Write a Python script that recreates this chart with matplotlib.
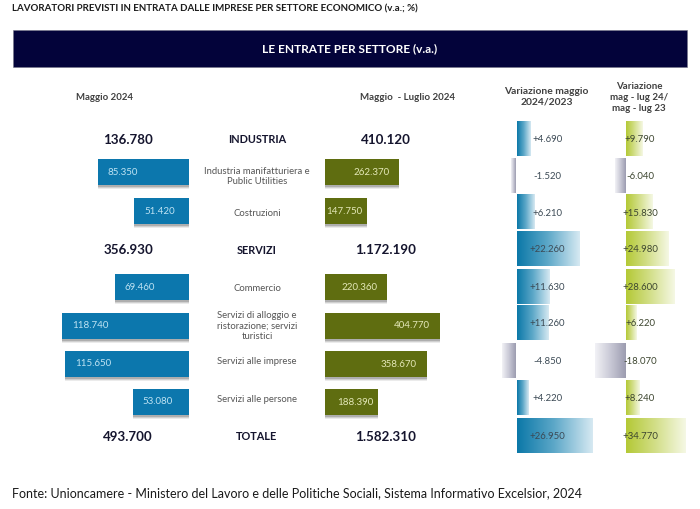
import numpy as np
import matplotlib
matplotlib.use("Agg")
import matplotlib.pyplot as plt
from matplotlib.colors import LinearSegmentedColormap
from matplotlib.patches import Rectangle

plt.rcParams['font.family'] = ['Lato', 'DejaVu Sans']

sectors = ["INDUSTRIA", "Industria manifatturiera e\nPublic Utilities", "Costruzioni", "SERVIZI", "Commercio",
           "Servizi di alloggio e\nristorazione; servizi\nturistici", "Servizi alle imprese",
           "Servizi alle persone", "TOTALE"]
is_total = [True, False, False, True, False, False, False, False, True]
may_2024 = [136780, 85350, 51420, 356930, 69460, 118740, 115650, 53080, 493700]
may_jul_2024 = [410120, 262370, 147750, 1172190, 220360, 404770, 358670, 188390, 1582310]
var_may = [4690, -1520, 6210, 22260, 11630, 11260, -4850, 4220, 26950]
var_may_jul = [9790, -6040, 15830, 24980, 28600, 6220, -18070, 8240, 34770]

W, H = 700, 510
row_y = [139.5, 176.5, 213, 250, 287.5, 324, 362, 399, 436.5]
left_bar_y = [None, 173.3, 212, None, 288.2, 326.5, 364.5, 402.5, None]
mid_bar_y = [None, 173.3, 212, None, 288.2, 326.5, 365, 403, None]
label_y = [139.5, 176.5, 213.5, 250, 288.7, 325.7, 362, 399.5, 436.7]

fig = plt.figure(figsize=(7, 5.1), dpi=100, facecolor='white')


def T(px, py, s, **kw):
    kw.setdefault('ha', 'center')
    kw.setdefault('va', 'center')
    return fig.text(px / W, 1 - py / H, s, **kw)


def panel(x0, x1, xlim):
    ax = fig.add_axes([x0 / W, 0, (x1 - x0) / W, 1])
    ax.set_xlim(*xlim)
    ax.set_ylim(H, 0)
    ax.axis('off')
    ax.patch.set_alpha(0)
    return ax


def dots(v, sign=False):
    s = f"{abs(v):,}".replace(',', '.')
    if sign:
        return ('+' if v >= 0 else '-') + s
    return s


T(12, 9, "LAVORATORI PREVISTI IN ENTRATA DALLE IMPRESE PER SETTORE ECONOMICO (v.a.; %)",
  ha='left', fontsize=7.05, fontweight='bold', color='#1c1c1c')
fig.add_artist(Rectangle((13 / W, 1 - 68 / H), 673.5 / W, 37 / H, transform=fig.transFigure,
                         facecolor='#03033a', edgecolor='#777788', lw=0.4))
T(349.5, 49, "LE ENTRATE PER SETTORE (v.a.)", fontsize=8.6, fontweight='bold', color='white')

T(105, 98, "Maggio 2024", fontsize=6.9, fontweight='bold', color='#404040')
T(408, 98, "Maggio  - Luglio 2024", fontsize=7.0, fontweight='bold', color='#404040')
T(546.7, 97, "Variazione maggio\n2024/2023", fontsize=7.4, fontweight='bold', color='#404040', linespacing=1.25)
T(639, 97.5, "Variazione\nmag - lug 24/\nmag - lug 23", fontsize=7.0, fontweight='bold', color='#404040', linespacing=1.3)
T(12, 493, "Fonte: Unioncamere - Ministero del Lavoro e delle Politiche Sociali, Sistema Informativo Excelsior, 2024",
  ha='left', fontsize=9.0, color='#1a1a1a')

for i, name in enumerate(sectors):
    if is_total[i]:
        T(257, label_y[i], name, fontsize=7.8, fontweight='bold', color='#15152e')
        T(128, label_y[i], dots(may_2024[i]), fontsize=9.6, fontweight='bold', color='#15152e')
        T(386, label_y[i], dots(may_jul_2024[i]), fontsize=9.6, fontweight='bold', color='#15152e')
    else:
        T(257, label_y[i], name, fontsize=6.8, color='#555555', linespacing=1.2)

axL = panel(50, 189.5, (139.5 / 1.0738 * 1000, 0))
axM = panel(325, 450, (0, 125 / 0.2834 * 1000))
for i in range(len(sectors)):
    if is_total[i]:
        continue
    for ax, vals, ys, col in ((axL, may_2024, left_bar_y, '#0c77ad'), (axM, may_jul_2024, mid_bar_y, '#5f6d10')):
        for off, a in ((4.0, .10), (3.0, .16), (2.0, .24)):
            ax.barh(ys[i] + off, vals[i], height=26, color='#444444', alpha=a, lw=0)
        ax.barh(ys[i], vals[i], height=26, color=col, lw=0)
    left_px = 189.5 - may_2024[i] * 1.0738 / 1000
    T(left_px + 10, left_bar_y[i] - 0.5, dots(may_2024[i]), ha='left', fontsize=7.0, color='#bfe3f3')
    right_px = 325 + may_jul_2024[i] * 0.2834 / 1000
    T(right_px - (5 if may_jul_2024[i] < 200000 else 10), mid_bar_y[i] - 0.5, dots(may_jul_2024[i]),
      ha='right', fontsize=7.0, color='#e4e8b8')

blue = LinearSegmentedColormap.from_list('b', ['#0b78a8', '#5fa9c9', '#d6e9f2'])
green = LinearSegmentedColormap.from_list('g', ['#b4c936', '#d3df8a', '#f5f8e4'])
grey = LinearSegmentedColormap.from_list('n', ['#9c9cb0', '#c9c9d6', '#f2f2f6'])
grad = np.linspace(0, 1, 128).reshape(1, -1)


def var_panel(ax, vals, cmap, neg_gap):
    for i, v in enumerate(vals):
        y0, y1 = row_y[i] - 17.4, row_y[i] + 17.4
        if v >= 0:
            ax.imshow(grad, cmap=cmap, extent=(0, v, y1, y0), aspect='auto', zorder=2)
        else:
            ax.imshow(grad[:, ::-1], cmap=grey, extent=(v - neg_gap, -neg_gap, y1, y0), aspect='auto', zorder=2)


axV1 = panel(490, 600, (-(516.7 - 490) / 2.795 * 1000, (600 - 516.7) / 2.795 * 1000))
var_panel(axV1, var_may, blue, 360)
axV1.set_xlim(-(516.7 - 490) / 2.795 * 1000, (600 - 516.7) / 2.795 * 1000)
axV1.set_ylim(H, 0)
axV2 = panel(590, 690, (-(626 - 590) / 1.697 * 1000, (690 - 626) / 1.697 * 1000))
var_panel(axV2, var_may_jul, green, 400)
axV2.set_xlim(-(626 - 590) / 1.697 * 1000, (690 - 626) / 1.697 * 1000)
axV2.set_ylim(H, 0)

for i in range(len(sectors)):
    T(547.5, row_y[i], dots(var_may[i], True), fontsize=6.9, color='#3c4a55', zorder=5)
    T(640, row_y[i], dots(var_may_jul[i], True), fontsize=6.9, color='#3d4630', zorder=5)

fig.savefig('out.png', dpi=100)
